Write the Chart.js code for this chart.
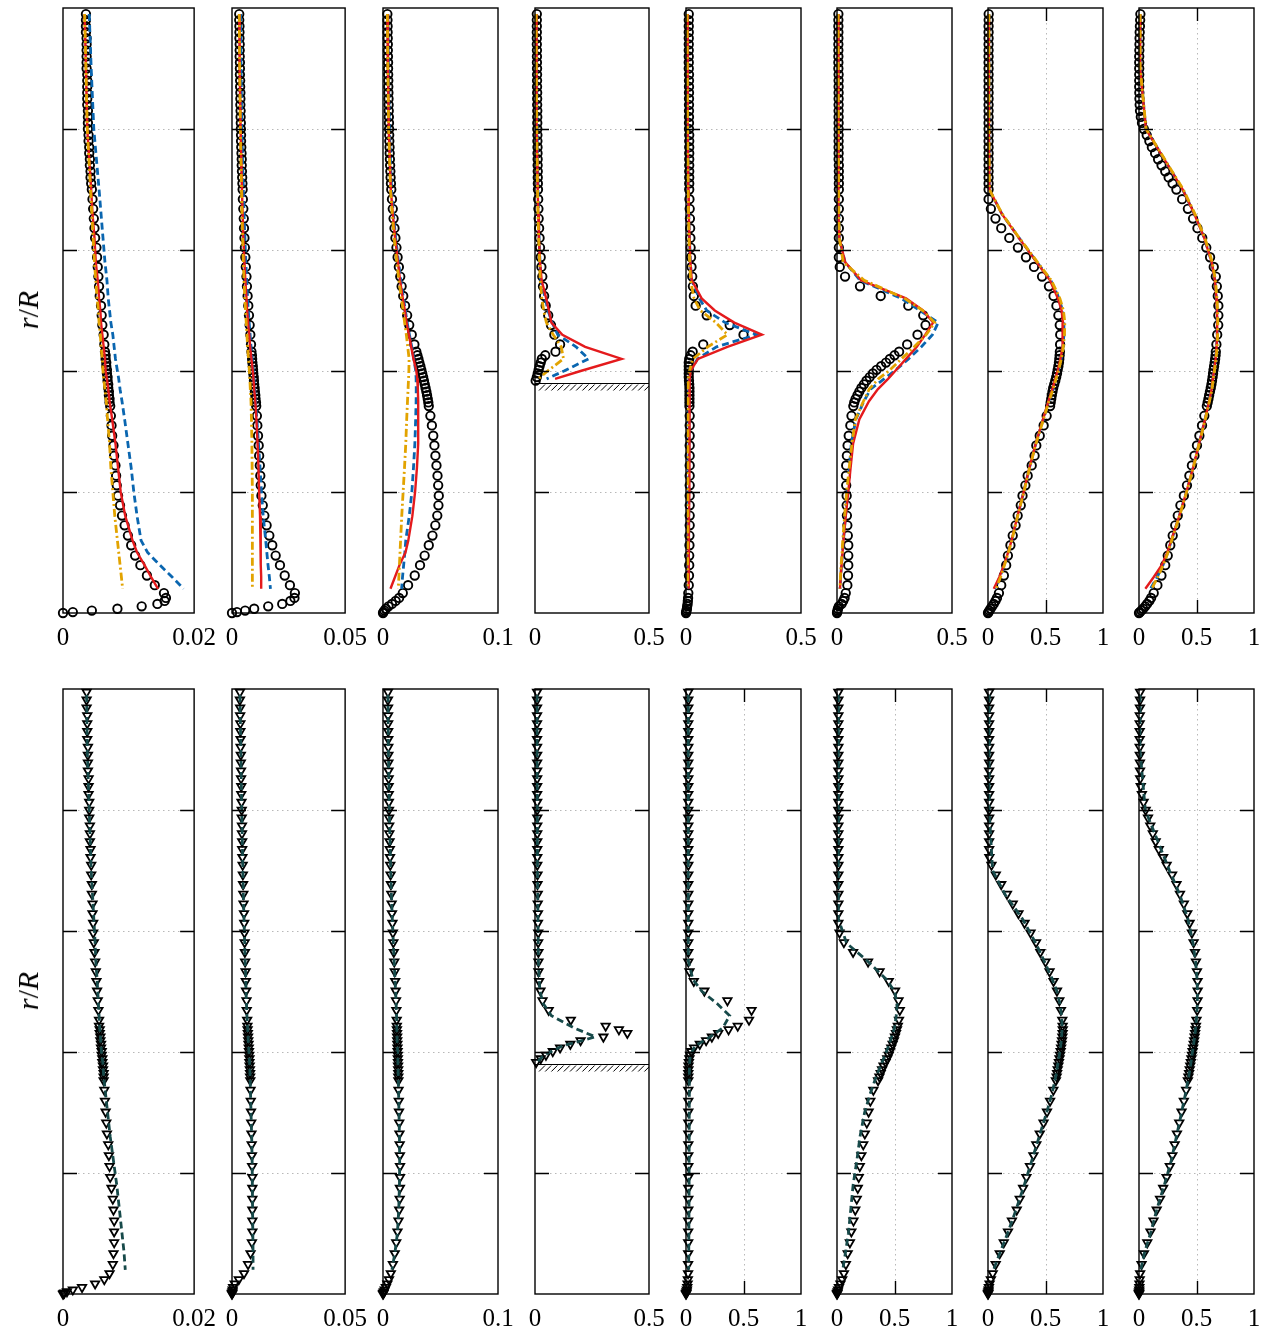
<!DOCTYPE html>
<html>
<head>
<meta charset="utf-8">
<script src="https://cdn.jsdelivr.net/npm/chart.js@4.4.1/dist/chart.umd.min.js"></script>
<style>
  body { margin: 0; background: #fff; }
  #wrap { position: relative; width: 1265px; height: 1330px; overflow: hidden; }
  canvas.panel { position: absolute; }
  .ylab { position: absolute; font: 30px "Liberation Serif", serif; white-space: nowrap;
          transform: translate(-50%, -50%) rotate(-90deg); }
</style>
</head>
<body>
<div id="wrap"></div>
<script>
// ---- data ----
// measurement positions r/R (top row, circles)
const rExp = [
  0.99,0.98,0.97,0.96,0.95,0.94,0.93,0.92,0.91,0.90,
  0.89,0.88,0.87,0.86,0.85,0.84,0.83,0.82,0.81,0.80,
  0.79,0.78,0.77,0.76,0.75,0.74,0.73,0.72,0.71,0.70,
  0.684,0.668,0.652,0.636,0.62,0.604,0.588,0.572,
  0.556,0.54,0.524,0.508,0.492,0.476,0.46,0.444,
  0.432,0.426,0.42,0.414,0.408,0.402,0.396,0.39,
  0.384,0.378,0.372,0.366,0.36,0.354,0.348,0.342,
  0.326,0.31,0.293,0.277,0.26,0.244,0.227,0.211,0.194,
  0.178,0.161,0.145,0.128,0.112,0.095,0.079,0.062,0.046,
  0.033,0.025,0.02,0.015,0.011,0.007,0.004,0.0015,0
];
// simulation positions r/R (top row lines)
const rLine = [
  0.99,0.9,0.8,0.7,0.66,0.62,0.58,
  0.55,0.52,0.5,0.48,0.46,0.44,0.42,
  0.40,0.387,0.37,0.35,0.32,0.28,0.24,
  0.2,0.16,0.12,0.1,0.08,0.06,0.04
];
// measurement positions r/R (bottom row, triangles)
const rTri = [
  0.995,0.982,0.969,0.956,0.943,0.93,0.917,0.904,0.891,0.878,0.865,0.852,
  0.839,0.826,0.813,0.80,0.787,0.774,0.761,0.748,0.735,0.722,0.709,
  0.693,0.677,0.661,0.645,0.629,0.613,0.597,0.581,
  0.565,0.549,0.533,0.517,0.501,0.485,0.469,0.453,
  0.443,0.437,0.431,0.425,0.419,0.413,0.407,0.401,
  0.395,0.389,0.383,0.377,0.371,0.365,0.359,0.353,
  0.337,0.319,0.301,0.283,0.265,0.247,0.229,0.211,0.193,
  0.175,0.157,0.139,0.121,0.103,0.085,0.067,0.049,0.034,
  0.024,0.017,0.011,0.007,0.004,0.002,0.001,0
];
// simulation positions r/R (bottom row lines)
const rLineB = [
  0.99,0.9,0.8,0.7,0.66,0.62,0.58,0.55,0.52,
  0.5,0.48,0.46,0.44,0.425,0.41,0.395,0.38,0.36,
  0.33,0.3,0.26,0.22,0.18,0.14,0.1,0.07,0.04
];

const xMaxTop = [0.02, 0.05, 0.1, 0.5, 0.5, 0.5, 1, 1];
const xMaxBottom = [0.02, 0.05, 0.1, 0.5, 1, 1, 1, 1];
const yGrid = [0.2, 0.4, 0.6, 0.8];
const wallR = 0.38;

// top row: experiment (circles)
const circ1 = [
  0.0035,0.0035,0.0035,0.0035,0.0036,0.0036,0.0036,0.0036,0.0036,0.0036,
  0.0037,0.0037,0.0037,0.0037,0.0037,0.0037,0.0038,0.0038,0.0038,0.0038,
  0.0039,0.0039,0.004,0.004,0.0041,0.0041,0.0042,0.0042,0.0043,0.0044,
  0.0045,0.0046,0.0047,0.0048,0.0049,0.0051,0.0052,0.0053,
  0.0054,0.0055,0.0056,0.0058,0.0059,0.006,0.0062,0.0063,
  0.0064,0.0065,0.0065,0.0066,0.0066,0.0067,0.0067,0.0068,
  0.0068,0.0069,0.0069,0.007,0.007,0.0071,0.0071,0.0072,
  0.0073,0.0074,0.0075,0.0077,0.0078,0.008,0.0081,0.0082,0.0084,
  0.0087,0.009,0.0094,0.0099,0.0104,0.011,0.0118,0.0128,0.014,
  0.0154,0.0157,0.0155,0.0144,0.012,0.0083,0.0044,0.0015,0
];
const circ2 = [
  0.0032,0.0032,0.0033,0.0033,0.0033,0.0034,0.0034,0.0034,0.0035,0.0035,
  0.0035,0.0036,0.0036,0.0037,0.0037,0.0037,0.0038,0.0038,0.0039,0.0039,
  0.004,0.004,0.0041,0.0042,0.0043,0.0043,0.0044,0.0045,0.0046,0.0047,
  0.0048,0.005,0.0052,0.0053,0.0055,0.0057,0.0059,0.0061,
  0.0064,0.0066,0.0069,0.0072,0.0075,0.0078,0.0081,0.0084,
  0.0086,0.0088,0.0089,0.009,0.0092,0.0093,0.0094,0.0096,
  0.0097,0.0098,0.01,0.0101,0.0103,0.0104,0.0106,0.0107,
  0.011,0.0112,0.0115,0.0118,0.012,0.0123,0.0125,0.0127,0.013,
  0.0136,0.0143,0.0153,0.0165,0.0178,0.0193,0.0212,0.0233,0.0256,
  0.0278,0.0276,0.0258,0.0222,0.016,0.0098,0.0058,0.0022,0
];
const circ3 = [
  0.0038,0.0039,0.004,0.004,0.0041,0.0042,0.0042,0.0043,0.0044,0.0044,
  0.0045,0.0046,0.0046,0.0047,0.0048,0.0049,0.005,0.0051,0.0052,0.0053,
  0.0054,0.0055,0.0057,0.0058,0.006,0.0062,0.0064,0.0066,0.0069,0.0072,
  0.0078,0.0085,0.0092,0.01,0.0108,0.0117,0.0127,0.0138,
  0.015,0.0162,0.0176,0.0192,0.021,0.0228,0.025,0.0273,
  0.029,0.0299,0.0308,0.0316,0.0325,0.0333,0.0341,0.0349,
  0.0356,0.0363,0.037,0.0377,0.0383,0.0389,0.0394,0.0398,
  0.0412,0.0425,0.0437,0.0447,0.0456,0.0465,0.0474,0.048,0.0485,
  0.0482,0.0472,0.0455,0.043,0.0398,0.0362,0.0322,0.0276,0.0218,
  0.0172,0.014,0.011,0.0078,0.0048,0.0025,0.0012,0.0004,0
];
const circ4 = [
  0.008,0.008,0.008,0.008,0.008,0.008,0.0085,0.0085,0.0085,0.009,
  0.009,0.009,0.009,0.0095,0.0095,0.0095,0.01,0.01,0.01,0.01,
  0.0105,0.0105,0.011,0.011,0.0115,0.0115,0.012,0.012,0.0125,0.013,
  0.014,0.015,0.016,0.018,0.02,0.022,0.025,0.028,
  0.032,0.035,0.04,0.047,0.058,0.07,0.085,0.11,
  0.09,0.045,0.03,0.025,0.02,0.016,0.012,0.008,
  0.003,null,null,null,null,null,null,null,
  null,null,null,null,null,null,null,null,null,
  null,null,null,null,null,null,null,null,null,
  null,null,null,null,null,null,null,null,null
];
const circ5 = [
  0.012,0.012,0.012,0.012,0.012,0.012,0.012,0.012,0.012,0.012,
  0.013,0.013,0.013,0.013,0.013,0.013,0.013,0.013,0.013,0.013,
  0.014,0.014,0.014,0.014,0.014,0.014,0.014,0.014,0.014,0.014,
  0.015,0.016,0.017,0.018,0.019,0.02,0.022,0.024,
  0.027,0.03,0.034,0.042,0.09,0.19,0.25,0.075,
  0.029,0.02,0.014,0.012,0.012,0.012,0.012,0.012,
  0.013,0.014,0.015,0.015,0.015,0.015,0.015,0.015,
  0.016,0.016,0.016,0.016,0.016,0.016,0.016,0.016,0.016,
  0.016,0.016,0.016,0.015,0.015,0.014,0.014,0.013,0.012,
  0.01,0.009,0.008,0.007,0.005,0.004,0.002,0.001,0
];
const circ6 = [
  0.006,0.006,0.006,0.006,0.006,0.006,0.006,0.006,0.006,0.006,
  0.007,0.007,0.007,0.007,0.007,0.007,0.007,0.007,0.007,0.007,
  0.007,0.007,0.007,0.007,0.007,0.008,0.008,0.008,0.008,0.008,
  0.008,0.008,0.008,0.008,0.008,0.008,0.008,0.012,
  0.035,0.1,0.19,0.31,0.375,0.385,0.35,0.305,
  0.27,0.25,0.23,0.213,0.192,0.172,0.156,0.142,
  0.128,0.117,0.106,0.097,0.089,0.081,0.075,0.071,
  0.063,0.058,0.051,0.046,0.043,0.04,0.039,0.04,0.042,
  0.042,0.043,0.045,0.047,0.049,0.049,0.049,0.048,0.045,
  0.038,0.033,0.027,0.02,0.008,0.004,0.002,0.001,0
];
const circ7 = [
  0.006,0.006,0.005,0.005,0.005,0.005,0.005,0.005,0.005,0.005,
  0.005,0.005,0.005,0.005,0.005,0.005,0.005,0.005,0.005,0.005,
  0.005,0.005,0.005,0.005,0.005,0.005,0.005,0.005,0.005,0.005,
  0.005,0.025,0.065,0.115,0.185,0.26,0.33,0.4,
  0.47,0.53,0.57,0.595,0.612,0.624,0.628,0.627,
  0.625,0.623,0.62,0.617,0.612,0.606,0.6,0.593,
  0.585,0.576,0.567,0.561,0.555,0.55,0.545,0.54,
  0.51,0.484,0.45,0.42,0.405,0.38,0.345,0.325,0.3,
  0.285,0.258,0.24,0.215,0.195,0.173,0.158,0.138,0.115,
  0.095,0.078,0.065,0.05,0.036,0.022,0.012,0.005,0
];
const circ8 = [
  0.012,0.01,0.008,0.006,0.005,0.004,0.003,0.002,0.002,0.002,
  0.002,0.002,0.002,0.003,0.004,0.006,0.009,0.016,0.026,0.042,
  0.067,0.09,0.112,0.14,0.166,0.196,0.228,0.258,0.292,0.325,
  0.375,0.425,0.47,0.508,0.55,0.585,0.618,0.65,
  0.668,0.677,0.685,0.69,0.69,0.689,0.68,0.673,
  0.668,0.666,0.662,0.658,0.653,0.648,0.644,0.64,
  0.635,0.63,0.624,0.617,0.61,0.604,0.597,0.59,
  0.568,0.548,0.525,0.504,0.482,0.46,0.438,0.417,0.39,
  0.36,0.337,0.315,0.293,0.272,0.25,0.228,0.195,0.16,
  0.128,0.105,0.09,0.07,0.054,0.036,0.02,0.008,0
];

// top row: simulations (red solid, blue dashed, gold dash-dot)
const red1 = [0.0033,0.0035,0.0037,0.0043,0.0045,0.0048,0.005, 0.0053,0.0055,0.0057,0.0058,0.006,0.0062,0.0064, 0.0065,0.0067,0.0069,0.0071,0.0075,0.008,0.0084, 0.0088,0.0095,0.0106,0.0113,0.0124,0.0134,0.0145];
const blue1 = [0.004,0.0043,0.0047,0.0055,0.0058,0.0061,0.0064, 0.0067,0.0069,0.0071,0.0073,0.0076,0.0078,0.008, 0.0083,0.0085,0.0087,0.009,0.0094,0.0099,0.0104, 0.0108,0.0113,0.0119,0.0129,0.0147,0.0166,0.0184];
const gold1 = [0.0033,0.0035,0.0037,0.0042,0.0044,0.0046,0.0048, 0.005,0.0052,0.0054,0.0055,0.0057,0.0058,0.006, 0.0061,0.0062,0.0064,0.0066,0.0068,0.0071,0.0073, 0.0076,0.0079,0.0083,0.0085,0.0087,0.0089,0.0091];

const red2 = [0.0032,0.0034,0.0038,0.0044,0.0047,0.005,0.0055, 0.0059,0.0064,0.0067,0.0071,0.0076,0.008,0.0086, 0.0092,0.0095,0.0098,0.0103,0.0108,0.0113,0.0117, 0.012,0.0124,0.0126,0.0127,0.0128,0.0129,0.0129];
const blue2 = [0.0038,0.004,0.0043,0.005,0.0053,0.0057,0.0061, 0.0065,0.0069,0.0072,0.0076,0.008,0.0084,0.0089, 0.0094,0.0097,0.01,0.0104,0.011,0.0117,0.0124, 0.013,0.0138,0.0149,0.0154,0.0159,0.0165,0.017];
const gold2 = [0.0032,0.0034,0.0037,0.0042,0.0044,0.0047,0.005, 0.0053,0.0057,0.006,0.0063,0.0066,0.0069,0.0073, 0.0077,0.0079,0.0081,0.0084,0.0086,0.0088,0.0089, 0.009,0.009,0.009,0.009,0.009,0.009,0.009];

const red3 = [0.0038,0.0043,0.005,0.0068,0.0085,0.0105,0.013, 0.0148,0.0172,0.019,0.0205,0.0225,0.0245,0.0265, 0.029,0.0298,0.0303,0.0306,0.0307,0.0305,0.0295, 0.0279,0.0255,0.022,0.0195,0.0145,0.0105,0.0065];
const blue3 = [0.0042,0.0047,0.0055,0.0074,0.009,0.011,0.0135, 0.0155,0.0178,0.0195,0.021,0.023,0.025,0.0268, 0.0285,0.0288,0.0289,0.0288,0.0284,0.0277,0.0265, 0.0251,0.0228,0.0198,0.019,0.018,0.017,0.0162];
const gold3 = [0.0038,0.0042,0.0049,0.0065,0.008,0.0097,0.012, 0.0138,0.016,0.0175,0.0188,0.0203,0.0215,0.0227, 0.0225,0.0222,0.0218,0.0213,0.0206,0.0198,0.0187, 0.0175,0.0163,0.0153,0.0148,0.0143,0.0138,0.0133];

const red4 = [0.005,0.006,0.008,0.012,0.014,0.017,0.022, 0.029,0.049,0.061,0.072,0.12,0.22,0.38, 0.2,0.088,null,null,null,null,null, null,null,null,null,null,null,null];
const blue4 = [0.006,0.007,0.009,0.013,0.015,0.018,0.022, 0.026,0.045,0.057,0.075,0.1,0.18,0.235, 0.127,0.051,null,null,null,null,null, null,null,null,null,null,null,null];
const gold4 = [0.005,0.006,0.008,0.011,0.013,0.016,0.02, 0.023,0.03,0.038,0.05,0.08,0.115,0.125, 0.055,0.015,null,null,null,null,null, null,null,null,null,null,null,null];

const red5 = [0.006,0.007,0.008,0.01,0.012,0.015,0.019, 0.025,0.068,0.125,0.21,0.33,0.18,0.052, 0.02,0.016,0.015,0.015,0.015,0.015,0.014, 0.014,0.013,0.013,0.012,0.012,0.011,0.01];
const blue5 = [0.006,0.007,0.008,0.01,0.012,0.015,0.019, 0.025,0.058,0.09,0.17,0.307,0.133,0.05, 0.02,0.014,0.013,0.013,0.013,0.013,0.012, 0.012,0.012,0.011,0.011,0.01,0.01,0.01];
const gold5 = [0.005,0.006,0.007,0.009,0.011,0.013,0.016, 0.02,0.035,0.062,0.13,0.18,0.095,0.03, 0.015,0.01,0.009,0.009,0.009,0.008,0.008, 0.008,0.008,0.008,0.007,0.007,0.007,0.007];

const red6 = [0.005,0.005,0.006,0.007,0.008,0.01,0.035, 0.105,0.3,0.374,0.418,0.384,0.347,0.3, 0.253,0.222,0.178,0.139,0.097,0.07,0.059, 0.049,0.038,0.028,0.024,0.02,0.016,0.013];
const blue6 = [0.005,0.005,0.006,0.007,0.008,0.01,0.035, 0.1,0.28,0.36,0.44,0.415,0.367,0.311, 0.25,0.205,0.146,0.117,0.082,0.062,0.054, 0.047,0.037,0.028,0.024,0.02,0.016,0.013];
const gold6 = [0.005,0.005,0.006,0.007,0.008,0.01,0.027, 0.118,0.294,0.373,0.425,0.388,0.336,0.28, 0.225,0.18,0.14,0.115,0.08,0.065,0.053, 0.042,0.033,0.025,0.022,0.018,0.015,0.013];

const red7 = [0.008,0.008,0.008,0.012,0.119,0.268,0.422, 0.539,0.608,0.64,0.652,0.652,0.645,0.63, 0.605,0.585,0.56,0.525,0.478,0.415,0.36, 0.31,0.256,0.205,0.175,0.14,0.1,0.05];
const blue7 = [0.008,0.008,0.008,0.012,0.12,0.27,0.425, 0.545,0.618,0.648,0.66,0.66,0.652,0.636, 0.61,0.59,0.565,0.528,0.48,0.416,0.36, 0.31,0.256,0.205,0.175,0.142,0.105,0.06];
const gold7 = [0.008,0.008,0.008,0.012,0.122,0.272,0.43, 0.55,0.625,0.656,0.668,0.665,0.655,0.638, 0.612,0.592,0.566,0.53,0.482,0.418,0.362, 0.312,0.258,0.207,0.177,0.145,0.11,0.07];

const red8 = [0.01,0.01,0.06,0.38,0.48,0.567,0.632, 0.66,0.673,0.678,0.68,0.679,0.675,0.666, 0.652,0.642,0.632,0.61,0.574,0.522,0.47, 0.412,0.35,0.28,0.246,0.2,0.13,0.055];
const blue8 = [0.01,0.01,0.06,0.38,0.48,0.567,0.632, 0.66,0.673,0.678,0.68,0.679,0.675,0.666, 0.652,0.642,0.632,0.61,0.574,0.522,0.47, 0.412,0.35,0.282,0.25,0.21,0.16,0.1];
const gold8 = [0.01,0.01,0.062,0.385,0.486,0.573,0.637, 0.665,0.678,0.683,0.685,0.684,0.68,0.67, 0.656,0.646,0.635,0.613,0.576,0.524,0.472, 0.414,0.352,0.284,0.252,0.212,0.165,0.11];

// bottom row: experiment (triangles)
const tri1 = [
  0.0036,0.0036,0.0036,0.0037,0.0037,0.0037,0.0037,0.0038,0.0038,0.0038,0.0038,0.0039,
  0.0039,0.0039,0.004,0.004,0.004,0.0041,0.0041,0.0041,0.0042,0.0042,0.0043,
  0.0043,0.0044,0.0044,0.0045,0.0045,0.0046,0.0046,0.0047,
  0.0048,0.0049,0.005,0.0051,0.0052,0.0053,0.0054,0.0055,
  0.0055,0.0056,0.0056,0.0057,0.0057,0.0058,0.0058,0.0059,
  0.0059,0.006,0.006,0.0061,0.0061,0.0062,0.0062,0.0062,
  0.0063,0.0064,0.0065,0.0066,0.0067,0.0069,0.007,0.0071,0.0072,
  0.0074,0.0076,0.0077,0.0078,0.0078,0.0078,0.0077,0.0076,0.0071,
  0.0063,0.0049,0.0029,0.0015,0.0006,0.0002,0.0001,0
];
const tri2 = [
  0.0035,0.0035,0.0036,0.0036,0.0037,0.0037,0.0038,0.0038,0.0039,0.0039,0.004,0.004,
  0.0041,0.0041,0.0042,0.0043,0.0043,0.0044,0.0044,0.0045,0.0045,0.0046,0.0047,
  0.0048,0.0049,0.005,0.0051,0.0053,0.0054,0.0055,0.0056,
  0.0057,0.0058,0.006,0.0061,0.0062,0.0064,0.0065,0.0067,
  0.0068,0.0069,0.007,0.0071,0.0072,0.0073,0.0074,0.0075,
  0.0076,0.0077,0.0077,0.0078,0.0079,0.008,0.008,0.0081,
  0.0082,0.0083,0.0084,0.0085,0.0086,0.0087,0.0088,0.0089,0.009,
  0.009,0.009,0.009,0.009,0.009,0.0088,0.0082,0.0071,0.0053,
  0.003,0.0012,0.0005,0.0003,0.0002,0.0001,0,0
];
const tri3 = [
  0.0043,0.0043,0.0044,0.0044,0.0045,0.0045,0.0046,0.0046,0.0047,0.0047,0.0048,0.0049,
  0.0049,0.005,0.0051,0.0052,0.0053,0.0054,0.0055,0.0057,0.0059,0.0061,0.0063,
  0.0066,0.0069,0.0072,0.0075,0.0078,0.0082,0.0086,0.009,
  0.0094,0.0098,0.0102,0.0106,0.011,0.0113,0.0116,0.0119,
  0.012,0.0121,0.0122,0.0123,0.0124,0.0125,0.0126,0.0127,
  0.0128,0.0129,0.013,0.0131,0.0132,0.0133,0.0133,0.0134,
  0.0135,0.0137,0.0139,0.0141,0.0143,0.0145,0.0147,0.0148,0.0148,
  0.0147,0.0145,0.0141,0.0135,0.0126,0.0115,0.0102,0.0086,0.0068,
  0.0052,0.0038,0.0025,0.0015,0.0008,0.0004,0.0002,0
];
const tri4 = [
  0.009,0.009,0.009,0.009,0.009,0.009,0.009,0.009,0.0095,0.0095,0.0095,0.0095,
  0.0095,0.0095,0.0095,0.0095,0.01,0.01,0.01,0.01,0.01,0.01,0.01,
  0.011,0.011,0.012,0.012,0.013,0.013,0.014,0.014,
  0.015,0.015,0.015,0.018,0.024,0.033,0.06,0.157,
  0.31,0.368,0.405,0.3,0.2,0.155,0.11,0.078,
  0.048,0.025,0.005,null,null,null,null,null,
  null,null,null,null,null,null,null,null,null,
  null,null,null,null,null,null,null,null,null,
  null,null,null,null,null,null,null,null
];
const tri5 = [
  0.02,0.02,0.02,0.02,0.02,0.02,0.02,0.02,0.02,0.02,0.02,0.02,
  0.02,0.02,0.02,0.02,0.02,0.02,0.02,0.02,0.02,0.02,0.02,
  0.02,0.02,0.02,0.02,0.02,0.02,0.02,0.02,
  0.02,0.02,0.03,0.068,0.16,0.36,0.57,0.548,
  0.45,0.37,0.28,0.225,0.175,0.12,0.07,0.045,
  0.035,0.03,0.025,0.022,0.021,0.02,0.02,0.02,
  0.02,0.02,0.02,0.02,0.02,0.02,0.02,0.02,0.02,
  0.02,0.02,0.02,0.019,0.019,0.019,0.019,0.018,0.018,
  0.016,0.014,0.011,0.008,0.005,0.003,0.001,0
];
const tri6 = [
  0.012,0.012,0.012,0.012,0.012,0.012,0.012,0.012,0.012,0.012,0.012,0.012,
  0.012,0.012,0.012,0.012,0.012,0.012,0.012,0.012,0.012,0.012,0.012,
  0.012,0.012,0.012,0.012,0.012,0.012,0.022,0.06,
  0.14,0.27,0.37,0.45,0.505,0.535,0.546,0.539,
  0.529,0.521,0.513,0.504,0.495,0.484,0.472,0.461,
  0.45,0.437,0.422,0.405,0.392,0.38,0.369,0.357,
  0.316,0.29,0.275,0.259,0.242,0.228,0.212,0.198,0.189,
  0.181,0.172,0.159,0.143,0.125,0.112,0.093,0.077,0.06,
  0.045,0.03,0.017,0.01,0.006,0.003,0.001,0
];
const tri7 = [
  0.01,0.01,0.01,0.01,0.01,0.01,0.01,0.01,0.01,0.01,0.01,0.01,
  0.01,0.01,0.01,0.01,0.01,0.01,0.01,0.01,0.01,0.012,0.03,
  0.068,0.115,0.165,0.215,0.265,0.318,0.37,0.418,
  0.455,0.5,0.535,0.57,0.6,0.62,0.634,0.646,
  0.649,0.65,0.649,0.647,0.644,0.64,0.636,0.632,
  0.627,0.622,0.617,0.612,0.606,0.601,0.597,0.59,
  0.568,0.54,0.513,0.483,0.45,0.42,0.395,0.365,0.334,
  0.305,0.276,0.25,0.208,0.174,0.137,0.102,0.067,0.041,
  0.025,0.014,0.008,0.005,0.003,0.002,0.001,0
];
const tri8 = [
  0.01,0.009,0.008,0.007,0.006,0.006,0.006,0.006,0.007,0.008,0.009,0.01,
  0.015,0.025,0.04,0.058,0.078,0.098,0.12,0.145,0.172,0.21,0.24,
  0.288,0.326,0.356,0.39,0.42,0.44,0.46,0.475,
  0.487,0.495,0.504,0.509,0.51,0.509,0.506,0.5,
  0.495,0.492,0.488,0.484,0.48,0.476,0.471,0.466,
  0.461,0.456,0.451,0.446,0.441,0.436,0.43,0.425,
  0.41,0.39,0.37,0.35,0.33,0.31,0.29,0.268,0.24,
  0.21,0.183,0.154,0.126,0.1,0.072,0.043,0.022,0.01,
  0.006,0.004,0.003,0.002,0.001,0,0,0
];

// bottom row: simulation (teal dashed)
const teal1 = [0.0036,0.0037,0.004,0.0043,0.0045,0.0047,0.0049,0.005,0.0052, 0.0053,0.0054,0.0055,0.0056,0.0057,0.0058,0.0059,0.0061,0.0062, 0.0065,0.0068,0.0072,0.0077,0.0082,0.0086,0.009,0.0093,0.0095];
const teal2 = [0.0035,0.0039,0.0043,0.0048,0.005,0.0053,0.0056,0.0058,0.0061, 0.0062,0.0064,0.0066,0.0069,0.0071,0.0073,0.0076,0.0078,0.008, 0.0082,0.0084,0.0087,0.0089,0.009,0.0091,0.0092,0.0093,0.0093];
const teal3 = [0.0043,0.0047,0.0055,0.0067,0.0073,0.0081,0.009,0.0097,0.0104, 0.011,0.0114,0.0118,0.012,0.0122,0.0125,0.0128,0.013,0.0133, 0.0136,0.0139,0.0143,0.0145,0.0143,0.0137,0.0125,0.0105,0.0078];
const teal4 = [0.009,0.009,0.01,0.011,0.012,0.013,0.014,0.015,0.018, 0.022,0.036,0.072,0.17,0.265,0.12,0.04,0,null, null,null,null,null,null,null,null,null,null];
const teal5 = [0.02,0.02,0.02,0.02,0.02,0.02,0.02,0.021,0.06, 0.14,0.27,0.38,0.32,0.21,0.08,0.037,0.03,0.029, 0.029,0.028,0.028,0.027,0.027,0.026,0.025,0.024,0.023];
const teal6 = [0.012,0.012,0.012,0.012,0.012,0.012,0.083,0.267,0.43, 0.5,0.523,0.515,0.5,0.475,0.448,0.418,0.385,0.342, 0.287,0.24,0.2,0.172,0.14,0.12,0.099,0.075,0.05];
const teal7 = [0.01,0.01,0.01,0.04,0.15,0.3,0.415,0.49,0.56, 0.6,0.625,0.64,0.645,0.64,0.632,0.62,0.607,0.59, 0.555,0.51,0.445,0.38,0.315,0.245,0.17,0.108,0.048];
const teal8 = [0.01,0.008,0.055,0.265,0.355,0.425,0.47,0.492,0.505, 0.508,0.507,0.502,0.493,0.484,0.473,0.461,0.45,0.433, 0.403,0.37,0.325,0.28,0.22,0.155,0.1,0.05,0.015];

const circTop = [circ1, circ2, circ3, circ4, circ5, circ6, circ7, circ8];
const redTop = [red1, red2, red3, red4, red5, red6, red7, red8];
const blueTop = [blue1, blue2, blue3, blue4, blue5, blue6, blue7, blue8];
const goldTop = [gold1, gold2, gold3, gold4, gold5, gold6, gold7, gold8];
const triBottom = [tri1, tri2, tri3, tri4, tri5, tri6, tri7, tri8];
const tealBottom = [teal1, teal2, teal3, teal4, teal5, teal6, teal7, teal8];

// ---- layout ----
const panelLeft = [63, 232, 383, 535, 686, 837, 988, 1139];
const panelWidth = [133, 115, 115, 114, 115, 115, 115, 115];
const rowTop = [8, 689];
const panelHeight = 605;
const PAD_L = 30, PAD_R = 30, PAD_T = 10, AXIS_H = 50;

const pts = (rs, xs) => rs.map((r, i) => ({ x: xs[i], y: r })).filter(p => p.x !== null);

// frame, inward ticks, dotted grid and the hatched wall
const framePlugin = {
  id: 'panelFrame',
  beforeDatasetsDraw(chart) {
    const { ctx, chartArea: a, scales: { x, y } } = chart;
    ctx.save();
    ctx.strokeStyle = '#b8b8b8';
    ctx.lineWidth = 1;
    ctx.setLineDash([1.5, 3.5]);
    yGrid.forEach(v => {
      const py = Math.round(y.getPixelForValue(v)) + 0.5;
      ctx.beginPath(); ctx.moveTo(a.left, py); ctx.lineTo(a.right, py); ctx.stroke();
    });
    x.ticks.forEach(t => {
      if (t.value <= 0 || t.value >= x.max) return;
      const px = Math.round(x.getPixelForValue(t.value)) + 0.5;
      ctx.beginPath(); ctx.moveTo(px, a.top); ctx.lineTo(px, a.bottom); ctx.stroke();
    });
    ctx.restore();
  },
  afterDatasetsDraw(chart, args, opts) {
    const { ctx, chartArea: a, scales: { x, y } } = chart;
    ctx.save();
    ctx.strokeStyle = '#000';
    ctx.lineWidth = 1.4;
    ctx.setLineDash([]);
    ctx.strokeRect(a.left, a.top, a.right - a.left, a.bottom - a.top);
    const tl = 14;
    ctx.lineWidth = 1.4;
    yGrid.forEach(v => {
      const py = Math.round(y.getPixelForValue(v)) + 0.5;
      ctx.beginPath();
      ctx.moveTo(a.left, py); ctx.lineTo(a.left + tl, py);
      ctx.moveTo(a.right - tl, py); ctx.lineTo(a.right, py);
      ctx.stroke();
    });
    x.ticks.forEach(t => {
      if (t.value <= 0 || t.value >= x.max) return;
      const px = Math.round(x.getPixelForValue(t.value)) + 0.5;
      ctx.beginPath();
      ctx.moveTo(px, a.top); ctx.lineTo(px, a.top + tl - 1);
      ctx.moveTo(px, a.bottom); ctx.lineTo(px, a.bottom - tl + 1);
      ctx.stroke();
    });
    if (opts.wall !== undefined && opts.wall !== null) {
      const wy = Math.round(y.getPixelForValue(opts.wall)) + 0.5;
      ctx.lineWidth = 1;
      ctx.beginPath(); ctx.moveTo(a.left, wy); ctx.lineTo(a.right, wy); ctx.stroke();
      ctx.beginPath();
      ctx.rect(a.left, wy, a.right - a.left, 9);
      ctx.clip();
      ctx.beginPath();
      for (let hx = a.left + 4; hx < a.right; hx += 6.2) {
        ctx.moveTo(hx, wy + 7); ctx.lineTo(hx + 6, wy + 1);
      }
      ctx.stroke();
    }
    ctx.restore();
  }
};

const wrap = document.getElementById('wrap');

function makePanel(row, col, datasets, xMax, wall) {
  const canvas = document.createElement('canvas');
  canvas.className = 'panel';
  const w = panelWidth[col] + PAD_L + PAD_R;
  const h = panelHeight + PAD_T + AXIS_H;
  canvas.width = w; canvas.height = h;
  canvas.style.width = w + 'px'; canvas.style.height = h + 'px';
  canvas.style.left = (panelLeft[col] - PAD_L) + 'px';
  canvas.style.top = (rowTop[row] - PAD_T) + 'px';
  wrap.appendChild(canvas);
  const xTicks = xMax === 1 ? [0, 0.5, 1] : [0, xMax];
  new Chart(canvas, {
    type: 'scatter',
    data: { datasets },
    options: {
      responsive: false,
      animation: false,
      devicePixelRatio: 1,
      layout: { padding: { left: PAD_L, right: PAD_R, top: PAD_T, bottom: 0 } },
      plugins: {
        legend: { display: false },
        tooltip: { enabled: false },
        panelFrame: { wall }
      },
      scales: {
        x: {
          type: 'linear', min: 0, max: xMax,
          afterBuildTicks: ax => { ax.ticks = xTicks.map(v => ({ value: v })); },
          afterFit: ax => { ax.height = AXIS_H; },
          grid: { display: false, drawTicks: false },
          border: { display: false },
          ticks: {
            autoSkip: false, maxRotation: 0, minRotation: 0, padding: 10, color: '#000',
            font: { family: '"Liberation Serif", serif', size: 25 },
            callback: v => String(v)
          }
        },
        y: { type: 'linear', min: 0, max: 1, display: false }
      }
    },
    plugins: [framePlugin]
  });
}

const lineDs = (rs, xs, color, dash, width) => ({
  data: pts(rs, xs), showLine: true, pointRadius: 0, borderColor: color,
  borderWidth: width, borderDash: dash, fill: false, tension: 0, clip: false
});

for (let i = 0; i < 8; i++) {
  makePanel(0, i, [
    lineDs(rLine, goldTop[i], '#e2a300', [8, 3, 2, 3], 2.8),
    lineDs(rLine, redTop[i], '#e41a1c', [], 2.4),
    lineDs(rLine, blueTop[i], '#0a66b0', [7, 4], 2.8),
    {
      data: pts(rExp, circTop[i]), showLine: false, pointStyle: 'circle',
      pointRadius: 4.2, pointBorderWidth: 1.9, borderColor: '#000',
      pointBorderColor: '#000', backgroundColor: 'rgba(0,0,0,0)',
      pointBackgroundColor: 'rgba(0,0,0,0)', clip: false
    }
  ], xMaxTop[i], i === 3 ? wallR : null);

  makePanel(1, i, [
    lineDs(rLineB, tealBottom[i], '#174a4a', [7, 4], 2.8),
    {
      data: pts(rTri, triBottom[i]), showLine: false, pointStyle: 'triangle', rotation: 180,
      pointRadius: 4.8, pointBorderWidth: 1.8, borderColor: '#000',
      pointBorderColor: '#000', backgroundColor: 'rgba(255,255,255,0)',
      pointBackgroundColor: 'rgba(255,255,255,0)', clip: false
    }
  ], xMaxBottom[i], i === 3 ? wallR : null);
}

// y-axis titles
[310, 991].forEach(cy => {
  const d = document.createElement('div');
  d.className = 'ylab';
  d.style.left = '28px';
  d.style.top = cy + 'px';
  d.innerHTML = '<i>r</i>/<i>R</i>';
  wrap.appendChild(d);
});
</script>
</body>
</html>
